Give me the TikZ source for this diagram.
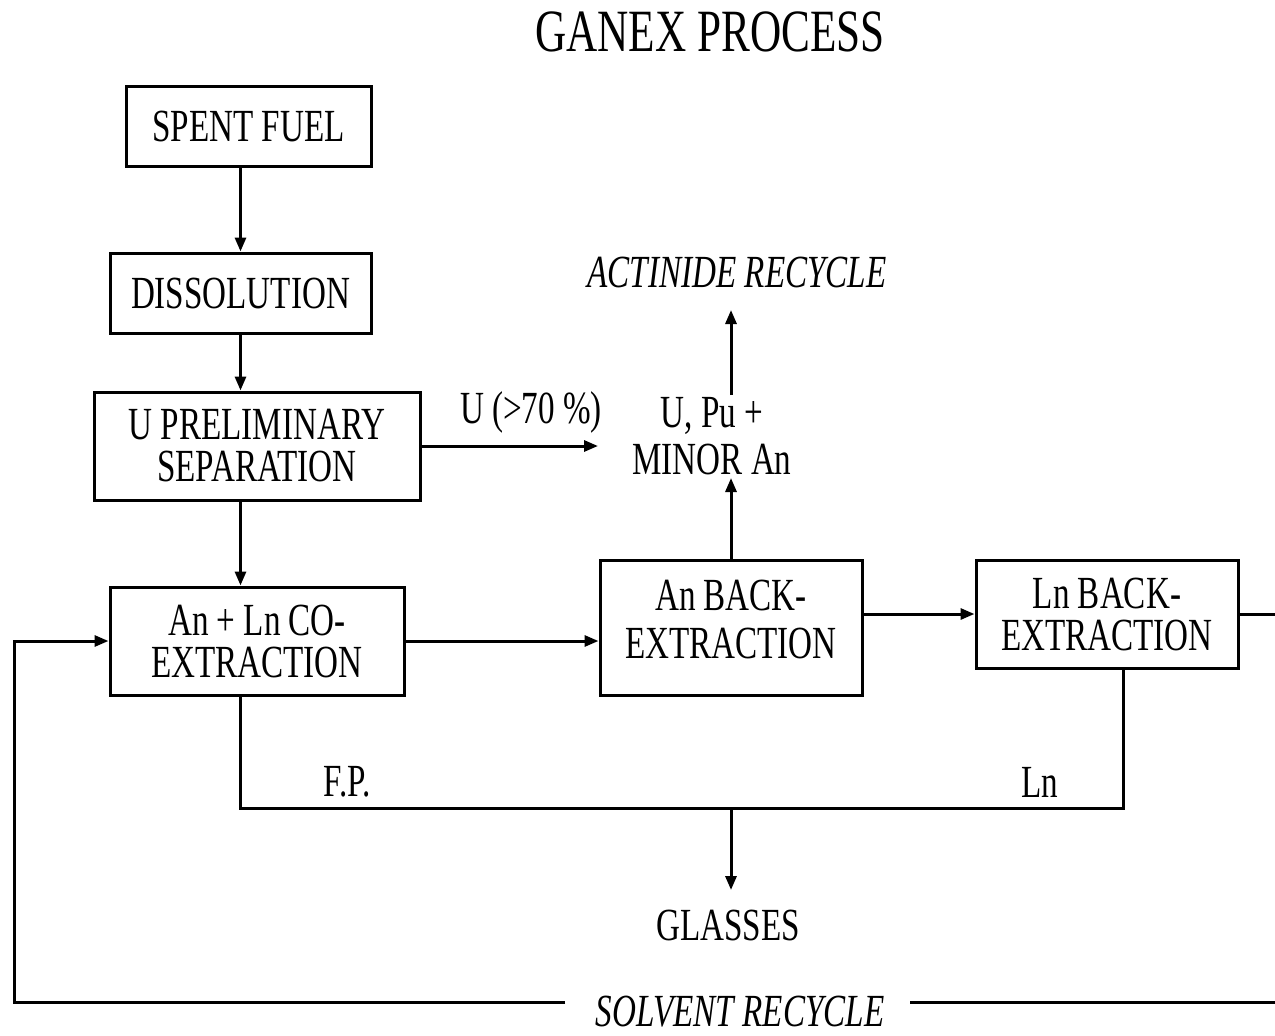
\documentclass[tikz,border=0pt]{standalone}
\usepackage{fontspec}
\setmainfont[FakeStretch=0.72]{Liberation Serif}
\usetikzlibrary{arrows.meta}
\begin{document}
\begin{tikzpicture}[x=1pt,y=-1pt,
 box/.style={draw,line width=3pt,inner sep=0pt,align=center,font=\fontsize{46}{42}\selectfont},
 lbl/.style={inner sep=0pt,align=center,font=\fontsize{46}{47}\selectfont},
 conn/.style={line width=3pt},
 arr/.style={line width=3pt,-{Triangle[length=14pt,width=11pt]}}]
\useasboundingbox (0,0) rectangle (1275,1036);
\clip (0,0) rectangle (1275,1036);
\node[lbl,font=\fontsize{60}{60}\selectfont] (title) at (710,32) {GANEX PROCESS};
\node[box,minimum width=245,minimum height=80] (spent) at (248.5,126) {SPENT FUEL};
\node[box,minimum width=261,minimum height=80] (diss) at (240.5,293) {DISSOLUTION};
\node[box,minimum width=326,minimum height=108] (upre) at (257,446) {U PRELIMINARY\\SEPARATION};
\node[box,minimum width=294,minimum height=108] (coex) at (257,641) {An + Ln CO-\\EXTRACTION};
\node[box,minimum width=262,minimum height=135] (anback) at (731,627.5) {An BACK-\\[6pt]EXTRACTION\\[-26pt]\mbox{}};
\node[box,minimum width=262,minimum height=108] (lnback) at (1107,614) {Ln BACK-\\EXTRACTION};
\node[lbl] (uperc) at (531,412) {U (>70 \%)};
\node[lbl] (upu) at (712,436) {U, Pu +\\MINOR An};
\node[lbl,font=\fontsize{46}{46}\selectfont\itshape] (actin) at (737,272) {ACTINIDE RECYCLE};
\node[lbl] (fp) at (347,782) {F.P.};
\node[lbl] (ln) at (1040,782) {Ln};
\node[lbl] (glass) at (728,925) {GLASSES};
\node[lbl,font=\fontsize{46}{46}\selectfont\itshape] (solv) at (740,1012) {SOLVENT RECYCLE};
\coordinate (uend) at (598,446);
\coordinate (upubot) at (731,478);
\coordinate (uputop) at (731,395);
\coordinate (actbot) at (731,310);
\coordinate (bl) at (240,808);
\coordinate (br) at (1123,808);
\coordinate (gl) at (731,808);
\coordinate (gend) at (731,890);
\coordinate (rtop) at (1290,614);
\coordinate (rbot) at (1290,1002);
\coordinate (sr) at (910,1002);
\coordinate (sl) at (565,1002);
\coordinate (lbot) at (14,1002);
\coordinate (ltop) at (14,641);
\draw[arr] (spent.south -| diss.north) -- (diss.north);
\draw[arr] (diss.south) -- (diss.south |- upre.north);
\draw[arr] (upre.south -| diss.south) -- (coex.north -| diss.south);
\draw[arr] (upre.east) -- (uend);
\draw[arr] (coex.east) -- (coex.east -| anback.west);
\draw[arr] (anback.east |- lnback.west) -- (lnback.west);
\draw[arr] (anback.north) -- (upubot);
\draw[arr] (uputop) -- (actbot);
\draw[conn] (coex.south -| bl) -- (bl) -- (br) -- (br |- lnback.south);
\draw[arr] (gl) -- (gend);
\draw[conn] (lnback.east) -- (rtop) -- (rbot) -- (sr);
\draw[arr] (sl) -- (lbot) -- (ltop) -- (coex.west);
\end{tikzpicture}
\end{document}
